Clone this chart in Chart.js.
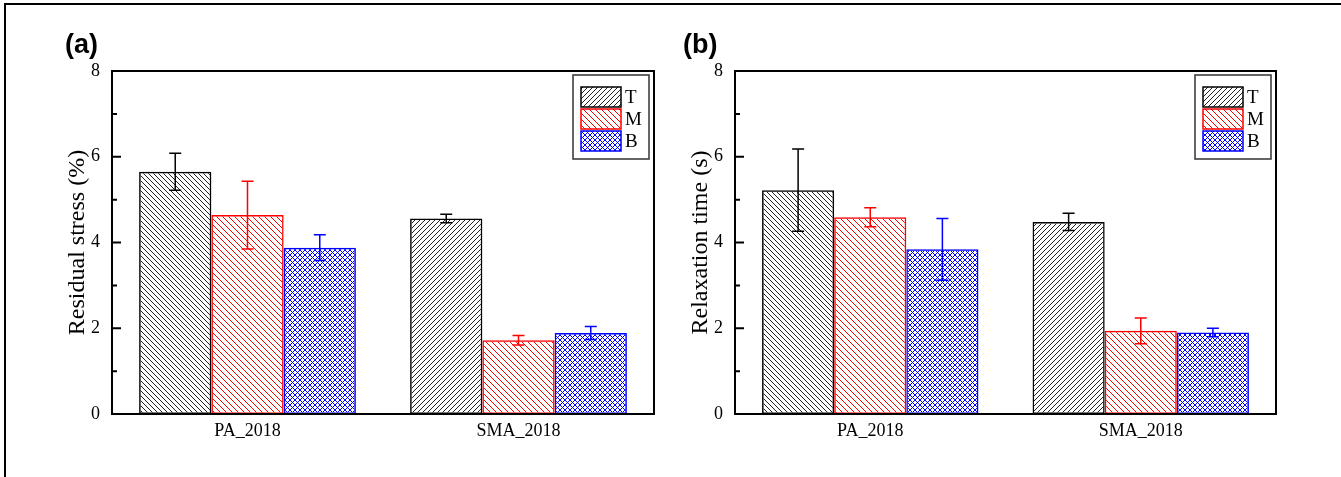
<!DOCTYPE html>
<html><head><meta charset="utf-8">
<script src="https://cdn.jsdelivr.net/npm/chart.js@4.4.1/dist/chart.umd.min.js"></script>
<style>
html,body{margin:0;padding:0;background:#fff;overflow:hidden;width:1341px;height:477px;}
#frame{position:absolute;left:4px;top:3px;width:1400px;height:500px;border-top:2px solid #000;border-left:2px solid #000;}
.panel{position:absolute;top:0;height:477px;}
#p1{left:0;width:670px;} #p2{left:670px;width:671px;}
.tag{position:absolute;font-family:"Liberation Sans",Arial,sans-serif;font-weight:bold;font-size:27px;line-height:27px;color:#000;}
</style></head><body>
<div id="frame"></div>
<div class="panel" id="p1"><canvas id="c1"></canvas></div>
<div class="panel" id="p2"><canvas id="c2"></canvas></div>
<div class="tag" id="t1" style="left:65px;top:31px"></div>
<div class="tag" id="t2" style="left:683px;top:31px"></div>
<script>
// ---- data ----
const categories = ['PA_2018', 'SMA_2018'];
const seriesNames = ['T', 'M', 'B'];
const stressT = [5.65, 4.56], stressTErr = [0.43, 0.10];
const stressM = [4.64, 1.72], stressMErr = [0.79, 0.11];
const stressB = [3.88, 1.89], stressBErr = [0.30, 0.15];
const relaxT = [5.22, 4.48], relaxTErr = [0.96, 0.20];
const relaxM = [4.59, 1.94], relaxMErr = [0.22, 0.30];
const relaxB = [3.84, 1.90], relaxBErr = [0.72, 0.10];
const yMajorTicks = [0, 2, 4, 6, 8];
const yMinorTicks = [1, 3, 5, 7];
const yTitles = ['Residual stress (%)', 'Relaxation time (s)'];
const panelTags = ['(a)', '(b)'];

document.getElementById('t1').textContent = panelTags[0];
document.getElementById('t2').textContent = panelTags[1];

// ---- styles ----
function makePattern(kind, color, s) {
  const c = document.createElement('canvas'); c.width = s; c.height = s;
  const g = c.getContext('2d'); g.strokeStyle = color; g.lineWidth = 1;
  g.beginPath();
  if (kind === 'back' || kind === 'cross') { for (let k = -1; k <= 1; k++) { g.moveTo(0, k * s); g.lineTo(s, s + k * s); } }
  if (kind === 'fwd' || kind === 'cross') { for (let k = 0; k <= 2; k++) { g.moveTo(0, k * s); g.lineTo(s, k * s - s); } }
  g.stroke();
  return g.createPattern(c, 'repeat');
}
const styles = [
  { color: '#000000', line: '#222222', hatch: ['back', 'fwd'], legendHatch: 'fwd', size: 5 },
  { color: '#ff0000', line: '#ff0000', hatch: ['back', 'back'], legendHatch: 'back', size: 6 },
  { color: '#0000ff', line: '#0000ff', hatch: ['cross', 'cross'], legendHatch: 'cross', size: 5 }
];
const FONT = '"Liberation Serif", "Times New Roman", serif';

function makeDatasets(values, errors) {
  return values.map((vals, i) => {
    const st = styles[i];
    return {
      label: seriesNames[i],
      data: vals,
      errors: errors[i],
      backgroundColor: st.hatch.map(h => makePattern(h, st.line, st.size)),
      legendFill: makePattern(st.legendHatch, st.line, st.size),
      borderColor: st.color,
      borderWidth: 1.5,
      borderSkipped: false,
      categoryPercentage: 0.8,
      barPercentage: 1.0
    };
  });
}

const deco = {
  id: 'deco',
  afterDatasetsDraw(chart) {
    const ctx = chart.ctx, ys = chart.scales.y;
    chart.data.datasets.forEach((ds, i) => {
      const meta = chart.getDatasetMeta(i);
      meta.data.forEach((el, j) => {
        const v = ds.data[j], e = ds.errors[j];
        const x = el.x, y1 = ys.getPixelForValue(v + e), y2 = ys.getPixelForValue(v - e);
        ctx.save();
        ctx.strokeStyle = ds.borderColor; ctx.lineWidth = 1.5;
        ctx.beginPath();
        ctx.moveTo(x, y1); ctx.lineTo(x, y2);
        ctx.moveTo(x - 6, y1); ctx.lineTo(x + 6, y1);
        ctx.moveTo(x - 6, y2); ctx.lineTo(x + 6, y2);
        ctx.stroke();
        ctx.restore();
      });
    });
  },
  afterDraw(chart) {
    const ctx = chart.ctx, ca = chart.chartArea, ys = chart.scales.y;
    ctx.save();
    ctx.strokeStyle = '#000'; ctx.lineWidth = 2;
    ctx.strokeRect(ca.left, ca.top, ca.right - ca.left, ca.bottom - ca.top);
    ctx.beginPath();
    yMajorTicks.forEach(v => { const y = ys.getPixelForValue(v); ctx.moveTo(ca.left, y); ctx.lineTo(ca.left + 9, y); });
    yMinorTicks.forEach(v => { const y = ys.getPixelForValue(v); ctx.moveTo(ca.left, y); ctx.lineTo(ca.left + 5, y); });
    ctx.stroke();
    // legend
    const bw = 76, bh = 84, bx = ca.right - 5 - bw, by = ca.top + 4;
    ctx.lineWidth = 1.5; ctx.strokeStyle = '#333';
    ctx.strokeRect(bx, by, bw, bh);
    chart.data.datasets.forEach((ds, i) => {
      const sx = bx + 8, sy = by + 12 + i * 22;
      ctx.fillStyle = ds.legendFill; ctx.fillRect(sx, sy, 40, 20);
      ctx.strokeStyle = ds.borderColor; ctx.lineWidth = 1.5; ctx.strokeRect(sx, sy, 40, 20);
      ctx.fillStyle = '#000'; ctx.font = '19px ' + FONT; ctx.textBaseline = 'middle'; ctx.textAlign = 'left';
      ctx.fillText(ds.label, sx + 44, sy + 11);
    });
    ctx.restore();
  }
};

function makeChart(id, values, errors, title, yWidth, rightPad, titlePad) {
  return new Chart(document.getElementById(id), {
    type: 'bar',
    data: { labels: categories, datasets: makeDatasets(values, errors) },
    options: {
      responsive: true, maintainAspectRatio: false, animation: false,
      layout: { padding: { top: 71, right: rightPad, bottom: 0, left: 0 } },
      plugins: { legend: { display: false }, tooltip: { enabled: false } },
      scales: {
        x: {
          grid: { display: false, drawTicks: false }, border: { display: false },
          ticks: { color: '#000', font: { family: FONT, size: 18 }, padding: 6 },
          afterFit(s) { s.height = 63; }
        },
        y: {
          min: 0, max: 8,
          grid: { display: false, drawTicks: false }, border: { display: false },
          ticks: { color: '#000', font: { family: FONT, size: 18 }, padding: 12 },
          afterBuildTicks(s) { s.ticks = yMajorTicks.map(v => ({ value: v })); },
          title: { display: true, text: title, color: '#000', font: { family: FONT, size: 24 }, padding: { top: titlePad, bottom: 0 } },
          afterFit(s) { s.width = yWidth; }
        }
      }
    },
    plugins: [deco]
  });
}

makeChart('c1', [stressT, stressM, stressB], [stressTErr, stressMErr, stressBErr], yTitles[0], 112, 16, 63);
makeChart('c2', [relaxT, relaxM, relaxB], [relaxTErr, relaxMErr, relaxBErr], yTitles[1], 65, 65, 16);
</script>
</body></html>
